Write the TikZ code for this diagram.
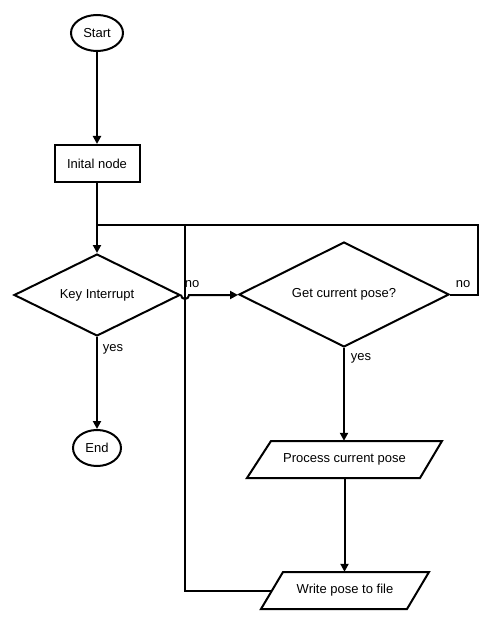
\documentclass[tikz,border=0pt]{standalone}
\usepackage{fontspec}
\setmainfont{Liberation Sans}
\usetikzlibrary{shapes.geometric,arrows.meta}
\begin{document}
\begin{tikzpicture}[x=1pt,y=-1pt,
  every node/.style={font=\fontsize{13}{15}\selectfont},
  base/.style={draw,line width=2pt,inner sep=0pt},
  term/.style={base,ellipse,minimum width=52pt,minimum height=36pt},
  procbox/.style={base,rectangle,minimum width=85pt,minimum height=37pt},
  decision/.style={base,diamond,aspect=2},
  iobox/.style={inner sep=0pt,rectangle,minimum height=37pt},
  shapeline/.style={line width=2pt,line join=miter},
  conn/.style={line width=2pt},
  arr/.style={conn,-{Triangle[length=8pt,width=8pt]}},
  lbl/.style={inner sep=0pt}]
\useasboundingbox (0,0) rectangle (500,620);
\node[term] (start) at (97,33) {Start};
\node[procbox] (init) at (97,163.5) {Inital node};
\node[decision,minimum width=166pt,minimum height=82pt] (key) at (97,295) {Key Interrupt};
\node[decision,minimum width=210pt,minimum height=105pt] (get) at (344,294.5) {Get current pose?};
\node[term,minimum width=48pt] (end) at (97,448) {End};
\node[iobox,minimum width=171pt] (proc) at (344.5,459.5) {Process current pose};
\node[iobox,minimum width=146pt] (write) at (345,590.5) {Write pose to file};
\draw[shapeline] ([shift={(-73.5,-18.5)}]proc.center) -- ([shift={(97.5,-18.5)}]proc.center)
  -- ([shift={(75.5,18.5)}]proc.center) -- ([shift={(-97.5,18.5)}]proc.center) -- cycle;
\draw[shapeline] ([shift={(-62,-18.5)}]write.center) -- ([shift={(84,-18.5)}]write.center)
  -- ([shift={(62,18.5)}]write.center) -- ([shift={(-84,18.5)}]write.center) -- cycle;
\coordinate (j) at (97,225);
\coordinate (r1) at (478,294.5);
\coordinate (r2) at (478,225);
\coordinate (l1) at (185,590.5);
\coordinate (l2) at (185,225);
\draw[arr] (start) -- (init);
\draw[conn] (init.south) -- (j);
\draw[arr] (get.east) -- (r1) -- (r2) -- (j) -- (key.north);
\draw[conn] (write.west) -- (l1) -- (l2);
\draw[arr] (key.east) -- (181,295) arc[start angle=180,end angle=0,radius=4] -- (get.west |- key.east);
\draw[arr] (key.south) -- (end.north);
\draw[arr] (get.south) -- (get.south |- proc.north);
\draw[arr] (proc.south) -- (proc.south |- write.north);
\node[lbl] (n1) at (192,284) {no};
\node[lbl] (n2) at (463,284) {no};
\node[lbl] (y1) at (113,349) {yes};
\node[lbl] (y2) at (361,358) {yes};
\end{tikzpicture}
\end{document}
